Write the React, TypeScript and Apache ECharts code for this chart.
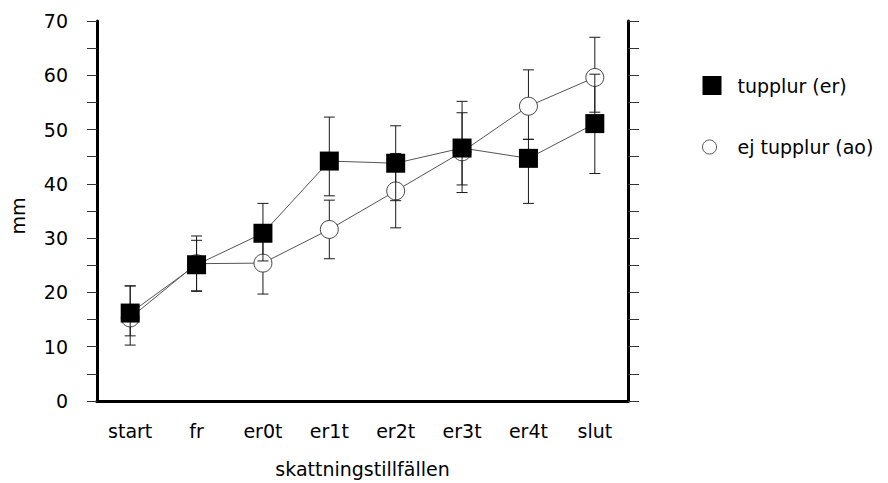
import React, { useEffect, useRef } from "react";
import * as echarts from "echarts";

const categories = ["start", "fr", "er0t", "er1t", "er2t", "er3t", "er4t", "slut"];
const tupplurName = "tupplur (er)";
const ejName = "ej tupplur (ao)";
const tupplurMean = [16.2, 25.1, 30.9, 44.2, 43.8, 46.6, 44.7, 51.1];
const tupplurLow = [12.0, 20.3, 25.8, 37.8, 36.9, 38.4, 36.4, 41.9];
const tupplurHigh = [21.2, 29.6, 36.4, 52.3, 50.7, 55.2, 48.2, 60.2];
const ejMean = [15.3, 25.3, 25.4, 31.6, 38.7, 45.9, 54.3, 59.6];
const ejLow = [10.3, 20.2, 19.7, 26.2, 31.9, 39.8, 48.2, 53.2];
const ejHigh = [21.2, 30.4, 31.1, 37.0, 45.6, 53.1, 61.0, 67.0];
const yMin = 0;
const yMax = 70;
const yStep = 10;
const yTitle = "mm";
const xTitle = "skattningstillfällen";

const FONT = "DejaVu Sans";

function errorRender(params: any, api: any) {
  const i = api.value(0);
  const top = api.coord([i, api.value(2)]);
  const bot = api.coord([i, api.value(1)]);
  const x = top[0];
  const hw = 5.5;
  const style = { stroke: "#1a1a1a", lineWidth: 1 };
  return {
    type: "group",
    children: [
      { type: "line", shape: { x1: x, y1: top[1], x2: x, y2: bot[1] }, style },
      { type: "line", shape: { x1: x - hw, y1: top[1], x2: x + hw, y2: top[1] }, style },
      { type: "line", shape: { x1: x - hw, y1: bot[1], x2: x + hw, y2: bot[1] }, style },
    ],
  };
}

export default function App() {
  const ref = useRef<HTMLDivElement>(null);
  useEffect(() => {
    if (!ref.current) return;
    const chart = echarts.init(ref.current, undefined, { renderer: "svg" });
    const axisLineStyle = { color: "#000", width: 3 };
    chart.setOption({
      animation: false,
      backgroundColor: "#fff",
      textStyle: { fontFamily: FONT },
      grid: { left: 97, right: 260, top: 21, bottom: 82, containLabel: false },
      legend: {
        orient: "vertical",
        left: 697,
        top: 71,
        itemWidth: 19,
        itemHeight: 19,
        itemGap: 42,
        selectedMode: false,
        textStyle: { fontFamily: FONT, fontSize: 19, color: "#000", padding: [0, 0, 0, 11] },
        data: [
          { name: tupplurName, icon: "rect" },
          {
            name: ejName,
            icon: "path://M0 0M20 20M7.4 2.6A7.4 7.4 0 1 1 7.39 2.6Z",
            itemStyle: { color: "#fff", borderColor: "#555", borderWidth: 1 },
          },
        ],
      },
      xAxis: [
        {
          type: "category",
          data: categories,
          position: "bottom",
          boundaryGap: true,
          axisLine: { lineStyle: axisLineStyle },
          axisTick: { alignWithLabel: true, length: 6, lineStyle: { color: "#333", width: 1 } },
          axisLabel: { fontFamily: FONT, fontSize: 19, color: "#000", margin: 20 },
          name: xTitle,
          nameLocation: "middle",
          nameGap: 58,
          nameTextStyle: { fontFamily: FONT, fontSize: 19, color: "#000" },
          splitLine: { show: false },
        },
        {
          type: "category",
          data: categories,
          position: "top",
          boundaryGap: true,
          axisLine: { lineStyle: axisLineStyle },
          axisTick: { alignWithLabel: true, length: 6, lineStyle: { color: "#333", width: 1 } },
          axisLabel: { show: false },
          splitLine: { show: false },
        },
      ],
      yAxis: [
        {
          type: "value",
          min: yMin,
          max: yMax,
          interval: yStep,
          position: "left",
          axisLine: { show: true, lineStyle: axisLineStyle },
          axisTick: { show: true, length: 10, lineStyle: { color: "#333", width: 1 } },
          minorTick: { show: true, splitNumber: 2, length: 10, lineStyle: { color: "#333", width: 1 } },
          axisLabel: { fontFamily: FONT, fontSize: 19, color: "#000", margin: 29 },
          splitLine: { show: false },
        },
        {
          type: "value",
          min: yMin,
          max: yMax,
          interval: yStep,
          position: "right",
          axisLine: { show: true, lineStyle: axisLineStyle },
          axisTick: { show: true, length: 11, lineStyle: { color: "#333", width: 1 } },
          minorTick: { show: true, splitNumber: 2, length: 11, lineStyle: { color: "#333", width: 1 } },
          axisLabel: { show: false },
          splitLine: { show: false },
        },
      ],
      graphic: [
        {
          type: "text",
          x: 18,
          y: 216,
          rotation: Math.PI / 2,
          style: {
            text: yTitle,
            fontFamily: FONT,
            fontSize: 19,
            fill: "#000",
            align: "center",
            verticalAlign: "middle",
          },
        },
      ],
      series: [
        {
          type: "custom",
          name: "ejErr",
          xAxisIndex: 0,
          yAxisIndex: 0,
          z: 1,
          renderItem: errorRender,
          encode: { x: 0, y: [1, 2] },
          data: categories.map((_, i) => [i, ejLow[i], ejHigh[i]]),
          silent: true,
        },
        {
          type: "line",
          name: ejName,
          xAxisIndex: 0,
          yAxisIndex: 0,
          z: 2,
          data: ejMean,
          symbol: "circle",
          symbolSize: 18,
          showAllSymbol: true,
          lineStyle: { color: "#555", width: 1 },
          itemStyle: { color: "#fff", borderColor: "#444", borderWidth: 1 },
        },
        {
          type: "custom",
          name: "tupErr",
          xAxisIndex: 0,
          yAxisIndex: 0,
          z: 3,
          renderItem: errorRender,
          encode: { x: 0, y: [1, 2] },
          data: categories.map((_, i) => [i, tupplurLow[i], tupplurHigh[i]]),
          silent: true,
        },
        {
          type: "line",
          name: tupplurName,
          xAxisIndex: 0,
          yAxisIndex: 0,
          z: 4,
          data: tupplurMean,
          symbol: "rect",
          symbolSize: 19,
          showAllSymbol: true,
          lineStyle: { color: "#555", width: 1 },
          itemStyle: { color: "#000", borderWidth: 0 },
        },
      ],
    });
    return () => chart.dispose();
  }, []);
  return (
    <div
      ref={ref}
      style={{ position: "fixed", left: 0, top: 0, width: 888, height: 483, background: "#fff" }}
    />
  );
}
